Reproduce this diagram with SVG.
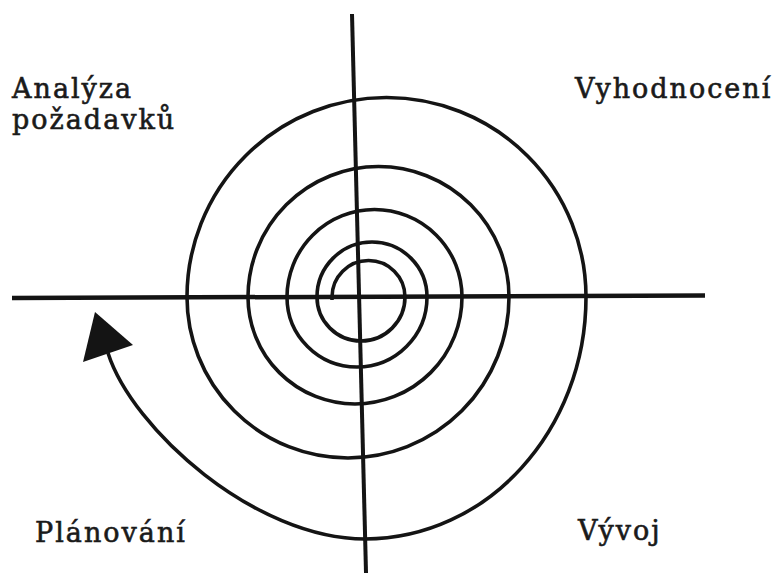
<svg xmlns="http://www.w3.org/2000/svg" width="778" height="575" viewBox="0 0 778 575">
<style>
.ln{fill:none;stroke:#141414;stroke-linecap:butt;stroke-linejoin:round}
.lbl{font-family:"DejaVu Serif","Liberation Serif",serif;font-size:27px;letter-spacing:2px;fill:#1a1a1a;stroke:#1a1a1a;stroke-width:0.6px}
</style>
<rect width="778" height="575" fill="#ffffff"/>
<g id="axes">
<line class="ln" x1="12" y1="298" x2="705" y2="295.5" stroke-width="4.5"/>
<line class="ln" x1="352" y1="14" x2="366" y2="573" stroke-width="4"/>
</g>
<g id="spiral">
<path class="ln" stroke-width="3.6" d="M332,300 L332,297 A36.5,36.5 0 0 1 405,297 A44,44 0 0 1 317,297 A55,55 0 0 1 427,297 A70,70 0 0 1 287,297 A87.5,87.5 0 0 1 462,297 A107,107 0 0 1 248,297 A130.5,130.5 0 0 1 509,297 A161,161 0 0 1 187,297 A199.5,199.5 0 0 1 586,297 C586,430.7 487,539 365,539 C255,539 132.3,429.2 108,353"/>
<polygon points="95,312 83,362 133,345" fill="#141414"/>
</g>
<g id="labels">
<text class="lbl" x="12" y="98">Analýza</text>
<text class="lbl" x="12" y="129">požadavků</text>
<text class="lbl" x="575" y="98">Vyhodnocení</text>
<text class="lbl" x="35" y="542">Plánování</text>
<text class="lbl" x="578" y="540">Vývoj</text>
</g>
</svg>
